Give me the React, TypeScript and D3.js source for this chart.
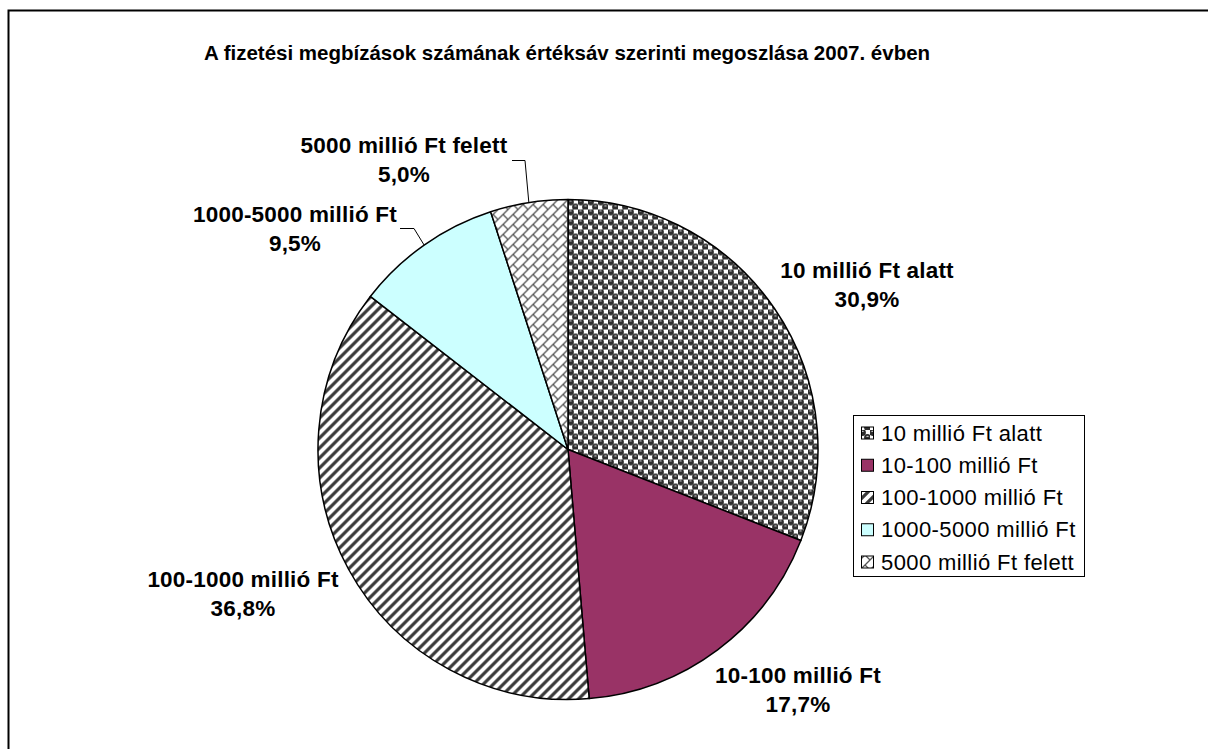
import React from "react";
import * as d3 from "d3";

const title = "A fizetési megbízások számának értéksáv szerinti megoszlása 2007. évben";
const categories = [
  "10 millió Ft alatt",
  "10-100 millió Ft",
  "100-1000 millió Ft",
  "1000-5000 millió Ft",
  "5000 millió Ft felett",
];
const shares = [30.9, 17.7, 36.8, 9.5, 5.0];

const fills = ["url(#pSphere)", "#993366", "url(#pStripe)", "#CCFFFF", "url(#pBrick)"];

// label layout: [centerX, firstBaselineY]
const labelPos: [number, number][] = [
  [867, 278],
  [798, 683],
  [243, 587],
  [295, 222],
  [404, 153],
];
// leader lines (start points, elbow) for small slices, in px
const leaders: { [k: number]: [number, number][] } = {
  3: [[400, 228.5], [414, 228.5]],
  4: [[512, 160.5], [525, 160.5]],
};

const W = 1208, H = 749;
const cx = 568, cy = 449.5, R = 250;

const locale = d3.formatLocale({ decimal: ",", thousands: " ", grouping: [3], currency: ["", ""] });
const fmt = locale.format(".1f");

export default function App() {
  const pie = d3.pie<number>().sort(null).value((d) => d).startAngle(0).endAngle(2 * Math.PI);
  const arcs = pie(shares);
  const arc = d3.arc<d3.PieArcDatum<number>>().innerRadius(0).outerRadius(R);

  const legendX = 853, legendY = 415, legendW = 231, legendH = 161;
  const rowY = d3.scalePoint<string>().domain(categories).range([433, 562]);

  return (
    <svg width={W} height={H} style={{ position: "absolute", left: 0, top: 0, background: "#fff" }}
      fontFamily="'Liberation Sans', Arial, sans-serif">
      <defs>
        <pattern id="pSphere" width={10} height={10} patternUnits="userSpaceOnUse">
          <rect width={10} height={10} fill="#fff" />
          <circle cx={2.5} cy={2.5} r={3.4} fill="#2e2e2e" />
          <circle cx={7.5} cy={7.5} r={3.4} fill="#2e2e2e" />
          <circle cx={-2.5} cy={-2.5} r={3.4} fill="#2e2e2e" />
          <circle cx={12.5} cy={12.5} r={3.4} fill="#2e2e2e" />
          <ellipse cx={2.5} cy={1.3} rx={1.4} ry={0.6} fill="#c8c8c8" />
          <ellipse cx={7.5} cy={6.3} rx={1.4} ry={0.6} fill="#c8c8c8" />
        </pattern>
        <pattern id="pStripe" width={10} height={10} patternUnits="userSpaceOnUse">
          <rect width={10} height={10} fill="#fff" />
          <path d="M-5,5 L5,-5 M0,10 L10,0 M5,15 L15,5" stroke="#3a3a3a" strokeWidth={3.2} />
        </pattern>
        <pattern id="pBrick" width={10} height={10} patternUnits="userSpaceOnUse">
          <rect width={10} height={10} fill="#fff" />
          <path d="M-5,5 L5,-5 M0,10 L10,0 M5,15 L15,5 M5,5 L10,10" stroke="#555" strokeWidth={1.3} />
        </pattern>
      </defs>

      <rect x={8.5} y={10.5} width={1400} height={1000} fill="none" stroke="#000" strokeWidth={2} />

      <text x={567} y={60} textAnchor="middle" fontSize={20.5} fontWeight="bold" fill="#000">{title}</text>

      <g transform={`translate(${cx},${cy})`}>
        {arcs.map((a, i) => (
          <path key={i} d={arc(a) as string} fill={fills[i]} stroke="#000" strokeWidth={1.5} strokeLinejoin="round" />
        ))}
      </g>

      {arcs.map((a, i) => {
        const pts = leaders[i];
        if (!pts) return null;
        const mid = (a.startAngle + a.endAngle) / 2;
        const ex = cx + R * Math.sin(mid);
        const ey = cy - R * Math.cos(mid);
        const line = d3.line()([...pts, [ex, ey]]);
        return <path key={"l" + i} d={line as string} fill="none" stroke="#000" strokeWidth={1} />;
      })}

      {arcs.map((a, i) => {
        const [lx, ly] = labelPos[i];
        return (
          <text key={"t" + i} x={lx} y={ly} textAnchor="middle" fontSize={22.5} fontWeight="bold" fill="#000" letterSpacing={0.2}>
            <tspan x={lx} y={ly}>{categories[i]}</tspan>
            <tspan x={lx} y={ly + 29}>{fmt(a.data) + "%"}</tspan>
          </text>
        );
      })}

      <rect x={legendX + 0.5} y={legendY + 0.5} width={legendW} height={legendH} fill="#fff" stroke="#000" strokeWidth={1} />
      {categories.map((c, i) => {
        const y = rowY(c) as number;
        return (
          <g key={"lg" + i}>
            <rect x={861.5} y={y - 6} width={12} height={12} fill={fills[i]} stroke="#000" strokeWidth={1} />
            <text x={881} y={y + 7.5} fontSize={22} fill="#000" letterSpacing={0.4}>{c}</text>
          </g>
        );
      })}
    </svg>
  );
}
